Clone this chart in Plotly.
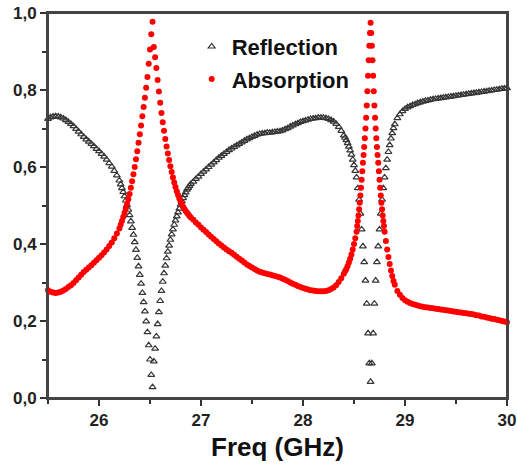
import numpy as np
import plotly.graph_objects as go

# ---------------- frequency grids (GHz) ----------------
# reflection samples: coarse away from resonances, finer near them
freq_reflection = np.round(np.concatenate([
    25.5 + 0.025 * np.arange(0, 29),     # 25.500 .. 26.200
    26.2 + 0.0125 * np.arange(1, 57),    # 26.2125 .. 26.900
    26.9 + 0.025 * np.arange(1, 61),     # 26.925 .. 28.400
    28.4 + 0.0125 * np.arange(1, 41),    # 28.4125 .. 28.900
    28.9 + 0.025 * np.arange(1, 45),     # 28.925 .. 30.000
]), 5)

# absorption samples: same, but denser across the narrow 28.66 GHz peak
freq_absorption = np.round(np.concatenate([
    25.5 + 0.025 * np.arange(0, 29),
    26.2 + 0.0125 * np.arange(1, 57),
    26.9 + 0.025 * np.arange(1, 61),
    28.4 + 0.0125 * np.arange(1, 11),    # 28.4125 .. 28.525
    28.525 + 0.00625 * np.arange(1, 44), # 28.53125 .. 28.79375
    28.8 + 0.0125 * np.arange(0, 9),     # 28.800 .. 28.900
    28.9 + 0.025 * np.arange(1, 45),
]), 5)

# ---------------- values ----------------
reflection = [
    # 25.500 .. 26.200
    0.725, 0.729, 0.731, 0.732, 0.731, 0.729, 0.726, 0.722, 0.717, 0.712,
    0.706, 0.699, 0.692, 0.685, 0.678, 0.672, 0.666, 0.660, 0.654, 0.647,
    0.641, 0.634, 0.627, 0.619, 0.610, 0.601, 0.590, 0.578, 0.565,
    # 26.2125 .. 26.900
    0.555, 0.545, 0.535, 0.524, 0.513, 0.501, 0.489, 0.475, 0.459, 0.442,
    0.424, 0.405, 0.385, 0.364, 0.342, 0.320, 0.297, 0.273, 0.249, 0.225,
    0.199, 0.171, 0.137, 0.100, 0.060, 0.028,
    0.095, 0.128, 0.160, 0.192, 0.223, 0.252, 0.278, 0.302, 0.324, 0.344,
    0.363, 0.380, 0.396, 0.411, 0.425, 0.438, 0.450, 0.461, 0.472, 0.482,
    0.492, 0.502, 0.511, 0.519, 0.527, 0.534, 0.541, 0.546, 0.551, 0.556,
    # 26.925 .. 28.400
    0.562, 0.569, 0.575, 0.582,
    0.588, 0.594, 0.600, 0.606, 0.612, 0.618, 0.624, 0.629, 0.634, 0.639, 0.644, 0.648,
    0.652, 0.656, 0.660, 0.664, 0.668, 0.672, 0.675, 0.678, 0.681, 0.684, 0.686, 0.687,
    0.688, 0.689, 0.689, 0.690, 0.691, 0.692, 0.693, 0.695,
    0.698, 0.701, 0.705, 0.708, 0.711, 0.714, 0.717, 0.719,
    0.721, 0.723, 0.725, 0.726, 0.727, 0.728, 0.728, 0.728, 0.727, 0.725,
    0.722, 0.718, 0.712, 0.704, 0.694, 0.682,
    # 28.4125 .. 28.900
    0.676, 0.670, 0.662, 0.653, 0.643, 0.632, 0.619, 0.605, 0.590, 0.573,
    0.545, 0.515, 0.479, 0.438, 0.394, 0.353, 0.305, 0.245, 0.168, 0.090,
    0.042,
    0.090, 0.168, 0.245, 0.305, 0.353, 0.394, 0.438, 0.479, 0.515, 0.545,
    0.573, 0.597, 0.619, 0.639, 0.657, 0.674, 0.688, 0.701, 0.711,
    # 28.925 .. 30.000
    0.727, 0.737, 0.745, 0.751, 0.755, 0.758, 0.761, 0.763, 0.766, 0.768,
    0.770, 0.772, 0.773, 0.775, 0.776, 0.777, 0.778, 0.779, 0.780, 0.781,
    0.782, 0.783, 0.784, 0.785, 0.786, 0.787, 0.788, 0.789, 0.790, 0.791,
    0.792, 0.793, 0.794, 0.795, 0.796, 0.797, 0.798, 0.799, 0.800, 0.801,
    0.802, 0.803, 0.804, 0.805,
]

absorption = [
    # 25.500 .. 26.200
    0.280, 0.276, 0.274, 0.273, 0.274, 0.276, 0.279, 0.283, 0.288, 0.293,
    0.299, 0.306, 0.313, 0.320, 0.327, 0.333, 0.339, 0.345, 0.351, 0.358,
    0.364, 0.371, 0.378, 0.386, 0.395, 0.404, 0.415, 0.427, 0.440,
    # 26.2125 .. 26.900
    0.450, 0.460, 0.470, 0.481, 0.492, 0.504, 0.516, 0.530, 0.546, 0.563,
    0.581, 0.600, 0.620, 0.641, 0.663, 0.685, 0.708, 0.732, 0.756, 0.780,
    0.806, 0.834, 0.868, 0.905, 0.945, 0.977,
    0.912, 0.885, 0.857, 0.826, 0.796, 0.767, 0.740, 0.716, 0.694, 0.673,
    0.653, 0.635, 0.618, 0.602, 0.587, 0.573, 0.560, 0.548, 0.537, 0.527,
    0.518, 0.510, 0.503, 0.497, 0.491, 0.486, 0.481, 0.477, 0.473, 0.469,
    # 26.925 .. 28.400
    0.463, 0.456, 0.450, 0.443, 0.437, 0.431, 0.425, 0.419, 0.413, 0.407,
    0.401, 0.396, 0.391, 0.386, 0.381, 0.377, 0.372, 0.367, 0.362, 0.357,
    0.352, 0.347, 0.343, 0.339, 0.335, 0.331, 0.328, 0.326, 0.324, 0.322,
    0.321, 0.319, 0.317, 0.315, 0.313, 0.310, 0.307, 0.304, 0.300, 0.297,
    0.294, 0.291, 0.288, 0.286, 0.284, 0.282, 0.280, 0.279, 0.278, 0.277,
    0.277, 0.277, 0.278, 0.280, 0.283, 0.287, 0.293, 0.301, 0.311, 0.323,
    # 28.4125 .. 28.525
    0.329, 0.335, 0.343, 0.352, 0.362, 0.373, 0.386, 0.400, 0.415, 0.432,
    # 28.53125 .. 28.79375
    0.447, 0.460, 0.474, 0.490, 0.507, 0.526, 0.546, 0.567, 0.589, 0.611,
    0.631, 0.652, 0.675, 0.700, 0.728, 0.760, 0.797, 0.837, 0.877, 0.915,
    0.948, 0.975, 0.948, 0.915, 0.877, 0.837, 0.797, 0.760, 0.728, 0.700,
    0.675, 0.652, 0.631, 0.611, 0.589, 0.567, 0.546, 0.526, 0.507, 0.490,
    0.474, 0.460, 0.447,
    # 28.800 .. 28.900
    0.432, 0.408, 0.386, 0.366, 0.348, 0.331, 0.317, 0.304, 0.294,
    # 28.925 .. 30.000
    0.278, 0.268, 0.260, 0.254, 0.250, 0.247, 0.244, 0.242, 0.240, 0.238,
    0.237, 0.236, 0.235, 0.234, 0.233, 0.232, 0.231, 0.230, 0.229, 0.228,
    0.227, 0.226, 0.225, 0.224, 0.223, 0.222, 0.221, 0.220, 0.219, 0.218,
    0.217, 0.215, 0.214, 0.212, 0.211, 0.209, 0.208, 0.206, 0.205, 0.203,
    0.202, 0.200, 0.199, 0.197,
]

x_ticks = [26, 27, 28, 29, 30]
y_ticks = [0.0, 0.2, 0.4, 0.6, 0.8, 1.0]

FONT = "Liberation Sans, Arial, Helvetica, sans-serif"

fig = go.Figure()
fig.add_trace(go.Scatter(
    x=freq_reflection, y=reflection, mode="markers", name="Reflection",
    legendgroup="r", cliponaxis=False,
    marker=dict(symbol="triangle-up-open", size=6, color="#363636",
                line=dict(width=1.2, color="#363636")),
))
fig.add_trace(go.Scatter(
    x=freq_absorption, y=absorption, mode="markers", name="Absorption",
    legendgroup="a", cliponaxis=False,
    marker=dict(symbol="circle", size=6, color="#ff0000", line=dict(width=0)),
))

axis_common = dict(
    showgrid=False, zeroline=False, automargin=False,
    ticklabeloverflow="allow",
    showline=True, linecolor="#444444", linewidth=2, mirror=True,
    ticks="outside", ticklen=6, tickwidth=1.5, tickcolor="#333333",
    tickfont=dict(family=FONT, size=17, color="#222222", weight="bold"),
)

fig.update_layout(
    width=517, height=468,
    margin=dict(l=48, r=10, t=13, b=70),
    paper_bgcolor="white", plot_bgcolor="white",
    separators=",.",
    showlegend=True,
    legend=dict(
        x=0.313, y=0.967, xanchor="left", yanchor="top",
        bgcolor="rgba(0,0,0,0)",
        font=dict(family=FONT, size=22, color="#111111", weight="bold"),
        traceorder="grouped", tracegroupgap=1,
    ),
    xaxis=dict(
        range=[25.5, 30], tickvals=x_ticks,
        minor=dict(dtick=0.5, ticks="outside", ticklen=4, tickcolor="#333333", tickwidth=1.5),
        title=dict(text="<b>Freq (GHz)</b>", standoff=8,
                   font=dict(family=FONT, size=26, color="#111111")),
        **axis_common,
    ),
    yaxis=dict(
        range=[0, 1], tickvals=y_ticks, tickformat=".1f",
        minor=dict(dtick=0.1, ticks="outside", ticklen=4, tickcolor="#333333", tickwidth=1.5),
        **axis_common,
    ),
    # closed frame around the plotting area
    shapes=[dict(type="rect", xref="paper", yref="paper", x0=0, x1=1, y0=0, y1=1,
                 line=dict(color="#444444", width=2), layer="below")],
)

# remove the browser's default 8 px page margin so the 517x468 figure fills the window
fig.write_html(
    "out.html",
    config={"displayModeBar": False},
    post_script="document.body.style.margin='0';document.body.style.overflow='hidden';",
)
